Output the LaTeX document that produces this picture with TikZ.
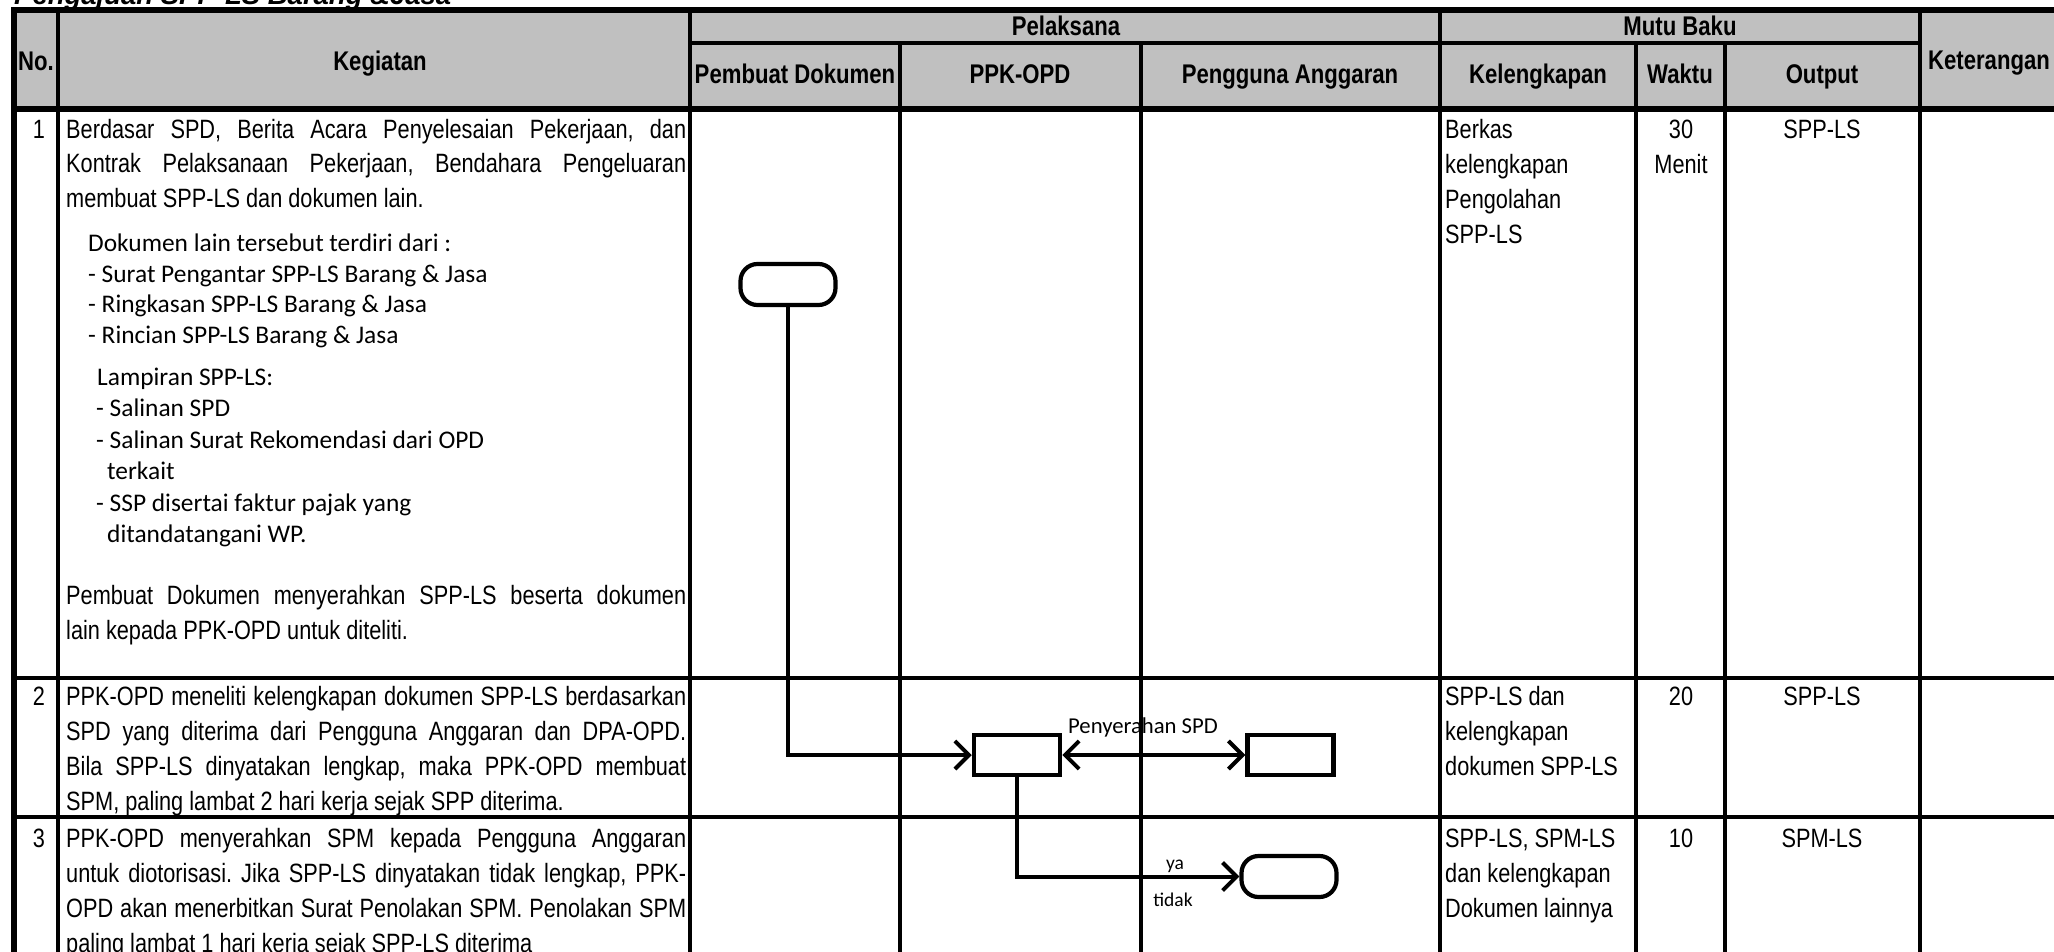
\documentclass[tikz,border=0pt]{standalone}
\usepackage{fontspec}
\setmainfont{Liberation Sans}
\newfontfamily\narrowf[FakeStretch=0.82]{Liberation Sans}
\newfontfamily\calf{Carlito}
\usetikzlibrary{arrows.meta}
\definecolor{hdrgray}{HTML}{C0C0C0}
\tikzset{
  body/.style={font=\narrowf\fontsize{26.5}{30}\selectfont, inner sep=0pt, anchor=base west},
  bodyc/.style={font=\narrowf\fontsize{26.5}{30}\selectfont, inner sep=0pt, anchor=base},
  hdr/.style={font=\narrowf\bfseries\fontsize{27}{30}\selectfont, inner sep=0pt, anchor=base},
  cal/.style={font=\calf\fontsize{25.4}{30}\selectfont, inner sep=0pt, anchor=base west},
  calc/.style={font=\calf\fontsize{22.7}{27}\selectfont, inner sep=0pt, anchor=base},
  calsm/.style={font=\calf\fontsize{19.5}{24}\selectfont, inner sep=0pt, anchor=base},
  titlef/.style={font=\bfseries\itshape\fontsize{27.5}{30}\selectfont, inner sep=0pt, anchor=base west},
  gridl/.style={line width=3.8pt},
  rowl/.style={line width=4pt},
  thickl/.style={line width=6pt},
  procbox/.style={draw, fill=white, line width=4.5pt, minimum width=86pt, minimum height=40pt, inner sep=0pt},
  termbox/.style={draw, fill=white, line width=4.2pt, rounded corners=17pt, minimum width=95pt, minimum height=41pt, inner sep=0pt},
  flow/.style={line width=4pt, -{Straight Barb[length=14pt,width=28pt]}},
  flowboth/.style={line width=4pt, {Straight Barb[length=14pt,width=28pt]}-{Straight Barb[length=14pt,width=28pt]}},
}
\begin{document}
\frenchspacing
\begin{tikzpicture}[x=1pt,y=-1pt]
\useasboundingbox (0,0) rectangle (2054,951);
% header background
\fill[hdrgray] (14,10) rectangle (2060,109);
% title (cut by top edge)
\node[titlef] (title) at (14,4) {Pengajuan SPP-LS Barang \&Jasa};
% grid
\draw[gridl] (690,43) -- (1920,43);
\draw[gridl] (58,10) -- (58,960);
\draw[gridl] (690,10) -- (690,960);
\draw[gridl] (900,43) -- (900,960);
\draw[gridl] (1141,43) -- (1141,960);
\draw[gridl] (1440,10) -- (1440,960);
\draw[gridl] (1636,43) -- (1636,960);
\draw[gridl] (1725,43) -- (1725,960);
\draw[gridl] (1920,10) -- (1920,960);
\draw[rowl] (14,678) -- (2060,678);
\draw[rowl] (14,817) -- (2060,817);
\draw[thickl] (14,109) -- (2060,109);
\draw[thickl] (14,960) -- (14,10) -- (2060,10);
% header texts
\node[hdr] (hno) at (36,70) {No.};
\node[hdr] (hkeg) at (380,70) {Kegiatan};
\node[hdr] (hpel) at (1066,35) {Pelaksana};
\node[hdr] (hpd) at (795,83) {Pembuat Dokumen};
\node[hdr] (hppk) at (1020,83) {PPK-OPD};
\node[hdr] (hpa) at (1290,83) {Pengguna Anggaran};
\node[hdr] (hmb) at (1680,35) {Mutu Baku};
\node[hdr] (hkel) at (1538,83) {Kelengkapan};
\node[hdr] (hwak) at (1680,83) {Waktu};
\node[hdr] (hout) at (1822,83) {Output};
\node[hdr] (hket) at (1989,69) {Keterangan};
% numbers
\node[bodyc] (n1) at (39,138) {1};
\node[bodyc] (n2) at (39,705) {2};
\node[bodyc] (n3) at (39,847) {3};
% row 1 kegiatan
\node[body] (r1a) at (66,138) {\makebox[620pt][s]{Berdasar SPD, Berita Acara Penyelesaian Pekerjaan, dan}};
\node[body] (r1b) at (66,172.5) {\makebox[620pt][s]{Kontrak Pelaksanaan Pekerjaan, Bendahara Pengeluaran}};
\node[body] (r1c) at (66,207) {membuat SPP-LS dan dokumen lain.};
\node[cal] (d1) at (88,251) {Dokumen lain tersebut terdiri dari :};
\node[cal] (d2) at (88,282) {- Surat Pengantar SPP-LS Barang \& Jasa};
\node[cal] (d3) at (88,312.5) {- Ringkasan SPP-LS Barang \& Jasa};
\node[cal] (d4) at (88,343) {- Rincian SPP-LS Barang \& Jasa};
\node[cal] (l1) at (97,385) {Lampiran SPP-LS:};
\node[cal] (l2) at (96,416.5) {- Salinan SPD};
\node[cal] (l3) at (96,448) {- Salinan Surat Rekomendasi dari OPD};
\node[cal] (l4) at (107,479.5) {terkait};
\node[cal] (l5) at (96,511) {- SSP disertai faktur pajak yang};
\node[cal] (l6) at (107,542.5) {ditandatangani WP.};
\node[body] (r1d) at (66,604.5) {\makebox[620pt][s]{Pembuat Dokumen menyerahkan SPP-LS beserta dokumen}};
\node[body] (r1e) at (66,639) {lain kepada PPK-OPD untuk diteliti.};
% row 2 kegiatan
\node[body] (r2a) at (66,705) {\makebox[620pt][s]{PPK-OPD meneliti kelengkapan dokumen SPP-LS berdasarkan}};
\node[body] (r2b) at (66,740) {\makebox[620pt][s]{SPD yang diterima dari Pengguna Anggaran dan DPA-OPD.}};
\node[body] (r2c) at (66,775) {\makebox[620pt][s]{Bila SPP-LS dinyatakan lengkap, maka PPK-OPD membuat}};
\node[body] (r2d) at (66,810) {SPM, paling lambat 2 hari kerja sejak SPP diterima.};
% row 3 kegiatan
\node[body] (r3a) at (66,847) {\makebox[620pt][s]{PPK-OPD menyerahkan SPM kepada Pengguna Anggaran}};
\node[body] (r3b) at (66,882) {\makebox[620pt][s]{untuk diotorisasi. Jika SPP-LS dinyatakan tidak lengkap, PPK-}};
\node[body] (r3c) at (66,917) {\makebox[620pt][s]{OPD akan menerbitkan Surat Penolakan SPM. Penolakan SPM}};
\node[body] (r3d) at (66,952) {paling lambat 1 hari kerja sejak SPP-LS diterima};
% mutu baku row 1
\node[body] (k1a) at (1445,138) {Berkas};
\node[body] (k1b) at (1445,173) {kelengkapan};
\node[body] (k1c) at (1445,208) {Pengolahan};
\node[body] (k1d) at (1445,243) {SPP-LS};
\node[bodyc] (w1a) at (1681,138) {30};
\node[bodyc] (w1b) at (1681,173) {Menit};
\node[bodyc] (o1) at (1822,138) {SPP-LS};
% mutu baku row 2
\node[body] (k2a) at (1445,705) {SPP-LS dan};
\node[body] (k2b) at (1445,740) {kelengkapan};
\node[body] (k2c) at (1445,775) {dokumen SPP-LS};
\node[bodyc] (w2) at (1681,705) {20};
\node[bodyc] (o2) at (1822,705) {SPP-LS};
% mutu baku row 3
\node[body] (k3a) at (1445,847) {SPP-LS, SPM-LS};
\node[body] (k3b) at (1445,882) {dan kelengkapan};
\node[body] (k3c) at (1445,917) {Dokumen lainnya};
\node[bodyc] (w3) at (1681,847) {10};
\node[bodyc] (o3) at (1822,847) {SPM-LS};
% flowchart
\node[termbox] (t1) at (788,284.5) {};
\node[procbox] (b1) at (1017,755) {};
\node[procbox] (b2) at (1290.5,755) {};
\node[termbox] (t2) at (1289,876.5) {};
\draw[flow] (t1.south) |- (b1.west);
\draw[flowboth] (b1.east) -- (b2.west);
\draw[flow] (b1.south) |- (t2.west);
\node[calc] (lspd) at (1143,733) {Penyerahan SPD};
\node[calsm] (lya) at (1175,869) {ya};
\node[calsm] (ltidak) at (1173,906) {tidak};
\end{tikzpicture}
\end{document}
